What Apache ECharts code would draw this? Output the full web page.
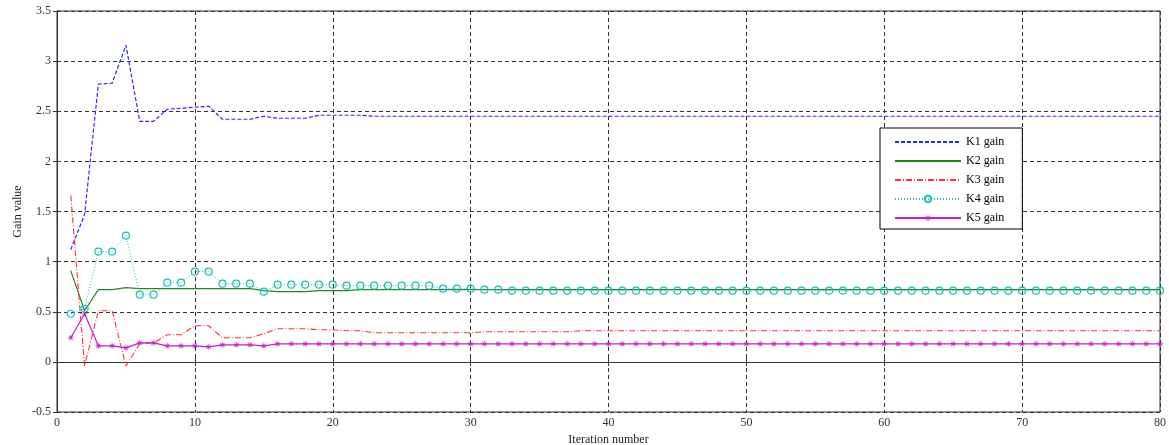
<!DOCTYPE html>
<html>
<head>
<meta charset="utf-8">
<script src="https://cdn.jsdelivr.net/npm/echarts@6/dist/echarts.min.js"></script>
<style>html,body{margin:0;padding:0;background:#fff}#c{width:1169px;height:445px}</style>
</head>
<body>
<div id="c"></div>
<script>
var iterations = [];
for (var i = 1; i <= 80; i++) iterations.push(i);

var k1 = [
1.12,1.47,2.77,2.78,3.16,2.40,2.40,2.52,2.53,2.54,
2.55,2.42,2.42,2.42,2.45,2.43,2.43,2.43,2.46,2.46,
2.46,2.46,2.45,2.45,2.45,2.45,2.45,2.45,2.45,2.45,
2.45,2.45,2.45,2.45,2.45,2.45,2.45,2.45,2.45,2.45,
2.45,2.45,2.45,2.45,2.45,2.45,2.45,2.45,2.45,2.45,
2.45,2.45,2.45,2.45,2.45,2.45,2.45,2.45,2.45,2.45,
2.45,2.45,2.45,2.45,2.45,2.45,2.45,2.45,2.45,2.45,
2.45,2.45,2.45,2.45,2.45,2.45,2.45,2.45,2.45,2.45];
var k2 = [
0.91,0.51,0.72,0.72,0.74,0.73,0.73,0.73,0.73,0.73,
0.73,0.73,0.73,0.73,0.71,0.70,0.70,0.70,0.71,0.71,
0.71,0.72,0.72,0.72,0.72,0.72,0.72,0.72,0.72,0.72,
0.72,0.72,0.72,0.72,0.72,0.72,0.72,0.72,0.72,0.72,
0.72,0.72,0.72,0.72,0.72,0.72,0.72,0.72,0.72,0.72,
0.72,0.72,0.72,0.72,0.72,0.72,0.72,0.72,0.72,0.72,
0.72,0.72,0.72,0.72,0.72,0.72,0.72,0.72,0.72,0.72,
0.72,0.72,0.72,0.72,0.72,0.72,0.72,0.72,0.72,0.72];
var k3 = [
1.66,-0.04,0.51,0.51,-0.04,0.18,0.19,0.27,0.27,0.36,
0.36,0.24,0.24,0.24,0.28,0.33,0.33,0.33,0.32,0.32,
0.31,0.31,0.29,0.29,0.29,0.29,0.29,0.29,0.29,0.29,
0.30,0.30,0.30,0.30,0.30,0.30,0.30,0.31,0.31,0.31,
0.31,0.31,0.31,0.31,0.31,0.31,0.31,0.31,0.31,0.31,
0.31,0.31,0.31,0.31,0.31,0.31,0.31,0.31,0.31,0.31,
0.31,0.31,0.31,0.31,0.31,0.31,0.31,0.31,0.31,0.31,
0.31,0.31,0.31,0.31,0.31,0.31,0.31,0.31,0.31,0.31];
var k4 = [
0.48,0.53,1.10,1.10,1.26,0.67,0.67,0.79,0.79,0.90,
0.90,0.78,0.78,0.78,0.70,0.77,0.77,0.77,0.77,0.77,
0.76,0.76,0.76,0.76,0.76,0.76,0.76,0.73,0.73,0.73,
0.72,0.72,0.71,0.71,0.71,0.71,0.71,0.71,0.71,0.71,
0.71,0.71,0.71,0.71,0.71,0.71,0.71,0.71,0.71,0.71,
0.71,0.71,0.71,0.71,0.71,0.71,0.71,0.71,0.71,0.71,
0.71,0.71,0.71,0.71,0.71,0.71,0.71,0.71,0.71,0.71,
0.71,0.71,0.71,0.71,0.71,0.71,0.71,0.71,0.71,0.71];
var k5 = [
0.24,0.48,0.16,0.16,0.14,0.19,0.19,0.16,0.16,0.16,
0.15,0.17,0.17,0.17,0.16,0.18,0.18,0.18,0.18,0.18,
0.18,0.18,0.18,0.18,0.18,0.18,0.18,0.18,0.18,0.18,
0.18,0.18,0.18,0.18,0.18,0.18,0.18,0.18,0.18,0.18,
0.18,0.18,0.18,0.18,0.18,0.18,0.18,0.18,0.18,0.18,
0.18,0.18,0.18,0.18,0.18,0.18,0.18,0.18,0.18,0.18,
0.18,0.18,0.18,0.18,0.18,0.18,0.18,0.18,0.18,0.18,
0.18,0.18,0.18,0.18,0.18,0.18,0.18,0.18,0.18,0.18];

var seriesNames = ['K1 gain','K2 gain','K3 gain','K4 gain','K5 gain'];
var xTicks = {min:0, max:80, interval:10};
var yTicks = {min:-0.5, max:3.5, interval:0.5};

function pairs(arr){ return arr.map(function(v,i){ return [iterations[i], v]; }); }

var FONT = '"Liberation Serif","DejaVu Serif",serif';
var star = 'path://M9,0h2v20h-2z M0,9h20v2h-20z M2.2,3.6L3.6,2.2L17.8,16.4L16.4,17.8z M16.4,2.2L17.8,3.6L3.6,17.8L2.2,16.4z';
var hidden = {color:'rgba(0,0,0,0)', borderWidth:0, opacity:0};

var chart = echarts.init(document.getElementById('c'), null, {renderer:'canvas'});
var gridLine = {show:true, lineStyle:{color:'#333', type:[4,3], width:1}};
chart.setOption({
  animation:false,
  backgroundColor:'#fff',
  grid:{left:57, right:9, top:11, bottom:33, show:true, borderColor:'#333', borderWidth:1,
        backgroundColor:'transparent', containLabel:false, outerBoundsMode:'none'},
  legend:{
    orient:'vertical', left:880, top:128,
    padding:[8,18,5,14], itemGap:7, itemWidth:66, itemHeight:8,
    backgroundColor:'#fff', borderColor:'#000', borderWidth:1,
    textStyle:{fontFamily:FONT, fontSize:12, color:'#000'},
    data:[
      {name:seriesNames[0], itemStyle:hidden},
      {name:seriesNames[1], itemStyle:hidden},
      {name:seriesNames[2], itemStyle:hidden},
      {name:seriesNames[3]},
      {name:seriesNames[4]}
    ]
  },
  xAxis:[{
    type:'value', min:xTicks.min, max:xTicks.max, interval:xTicks.interval,
    name:'Iteration number', nameLocation:'middle', nameGap:20,
    nameTextStyle:{fontFamily:FONT, fontSize:12, color:'#222'},
    axisLine:{show:true, lineStyle:{color:'#333'}},
    axisTick:{show:true, inside:true, length:4, lineStyle:{color:'#333'}},
    axisLabel:{fontFamily:FONT, fontSize:12, color:'#333', margin:5},
    splitLine:gridLine
  },{
    type:'value', position:'top', min:xTicks.min, max:xTicks.max, interval:xTicks.interval,
    axisLine:{show:true, lineStyle:{color:'#333'}},
    axisTick:{show:true, inside:true, length:4, lineStyle:{color:'#333'}},
    axisLabel:{show:false}, splitLine:{show:false}
  }],
  yAxis:[{
    type:'value', min:yTicks.min, max:yTicks.max, interval:yTicks.interval,
    name:'Gain value', nameLocation:'middle', nameGap:33, nameRotate:90, nameMoveOverlap:false,
    nameTextStyle:{fontFamily:FONT, fontSize:12, color:'#222'},
    axisLine:{show:true, lineStyle:{color:'#333'}},
    axisTick:{show:true, inside:true, length:4, lineStyle:{color:'#333'}},
    axisLabel:{fontFamily:FONT, fontSize:12, color:'#333', margin:6},
    splitLine:gridLine
  },{
    type:'value', position:'right', min:yTicks.min, max:yTicks.max, interval:yTicks.interval,
    axisLine:{show:true, lineStyle:{color:'#333'}},
    axisTick:{show:true, inside:true, length:4, lineStyle:{color:'#333'}},
    axisLabel:{show:false}, splitLine:{show:false}
  }],
  series:[
    {name:seriesNames[0], type:'line', data:pairs(k1), showSymbol:false, symbol:'none',
     lineStyle:{color:'#2a2aff', width:1.2, type:[4,2]}, itemStyle:{color:'#2a2aff'}},
    {name:seriesNames[1], type:'line', data:pairs(k2), showSymbol:false, symbol:'none',
     lineStyle:{color:'#1e8a1e', width:1.2, type:'solid'}, itemStyle:{color:'#1e8a1e'}},
    {name:seriesNames[2], type:'line', data:pairs(k3), showSymbol:false, symbol:'none',
     lineStyle:{color:'#ff3535', width:1.1, type:[6,2,1,2]}, itemStyle:{color:'#ff3535'}},
    {name:seriesNames[3], type:'line', data:pairs(k4), symbol:'circle', symbolSize:7, showSymbol:true,
     lineStyle:{color:'#1cbcbc', width:1, type:[1,2]},
     itemStyle:{color:'rgba(255,255,255,0)', borderColor:'#1cbcbc', borderWidth:1.2}},
    {name:seriesNames[4], type:'line', data:pairs(k5), symbol:star, symbolSize:6, showSymbol:true,
     lineStyle:{color:'#c81ec8', width:1.2, type:'solid'},
     itemStyle:{color:'#c81ec8'}}
  ]
});
</script>
</body>
</html>
